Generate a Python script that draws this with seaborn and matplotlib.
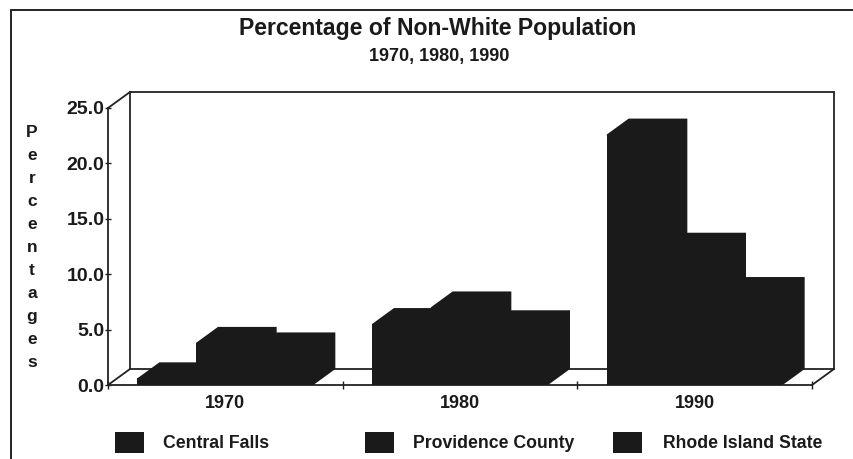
import matplotlib
matplotlib.use("Agg")
import matplotlib.pyplot as plt
from matplotlib.lines import Line2D
from matplotlib.patches import Polygon, Rectangle
import pandas as pd
import seaborn as sns

years = ["1970", "1980", "1990"]
central_falls = [0.6, 5.5, 22.6]
providence_county = [3.8, 7.0, 12.3]
rhode_island_state = [3.3, 5.3, 8.3]
series_names = ["Central Falls", "Providence County", "Rhode Island State"]
y_ticks = [0, 5, 10, 15, 20, 25]

W, H = 854, 459
INK = "#1a1a1a"
FONT = ["Liberation Sans", "DejaVu Sans"]

sns.set_theme(style="white", rc={"font.family": FONT, "font.weight": "bold",
                                 "text.color": INK, "axes.labelcolor": INK,
                                 "xtick.color": INK, "ytick.color": INK})

frame = pd.DataFrame({
    "year": years * 3,
    "value": central_falls + providence_county + rhode_island_state,
    "series": [n for n in series_names for _ in years],
})

fig = plt.figure(figsize=(W / 100, H / 100), dpi=100, facecolor="white")
ax = fig.add_axes([108 / W, 1 - 385 / H, 704 / W, 277 / H])
ax.patch.set_alpha(0)

palette = {n: INK for n in series_names}
sns.barplot(data=frame, x="year", y="value", hue="series", palette=palette,
            width=0.75, gap=0, dodge=True, saturation=1, legend=False,
            linewidth=0, ax=ax, errorbar=None, zorder=3)
ax.set_xlim(-0.5, 2.5)
ax.set_ylim(0, 25)

# Oblique depth of the pseudo-3D box, in data units
dx = 22 / (704 / 3)
dy = 16 / (277 / 25)

# Extrude every bar backwards with its top and side faces
for bar in list(ax.patches):
    x0, w, h = bar.get_x(), bar.get_width(), bar.get_height()
    ax.add_patch(Polygon([(x0, h), (x0 + dx, h + dy), (x0 + w + dx, h + dy),
                          (x0 + w + dx, dy), (x0 + w, 0)],
                         closed=True, fc=INK, ec="none", clip_on=False, zorder=3))

# Back wall and floor of the box
box = dict(color="#222222", lw=1.3, clip_on=False, zorder=1)
ax.add_line(Line2D([-0.5 + dx] * 2, [dy, 25 + dy], **box))
ax.add_line(Line2D([-0.5 + dx, 2.5 + dx], [25 + dy] * 2, **box))
ax.add_line(Line2D([2.5 + dx] * 2, [dy, 25 + dy], **box))
ax.add_line(Line2D([-0.5 + dx, 2.5 + dx], [dy, dy], **box))
ax.add_line(Line2D([-0.5, -0.5 + dx], [25, 25 + dy], **box))
ax.add_line(Line2D([-0.5, -0.5 + dx], [0, dy], **box))
ax.add_line(Line2D([2.5, 2.5 + dx], [0, dy], **box))

sns.despine(ax=ax, top=True, right=True)
for side in ("left", "bottom"):
    ax.spines[side].set_linewidth(1.3)
    ax.spines[side].set_color("#222222")
    ax.spines[side].set_zorder(2)

ax.set_yticks(y_ticks, [f"{v:.1f}" for v in y_ticks], fontsize=14, fontweight="bold")
ax.tick_params(axis="y", direction="inout", length=5, width=1, pad=0, left=True)
ax.set_xticks([0, 1, 2], years, fontsize=13, fontweight="bold")
ax.set_xticks([-0.5, 0.5, 1.5, 2.5], minor=True)
ax.tick_params(axis="x", which="major", length=0, pad=7)
ax.tick_params(axis="x", which="minor", direction="inout", length=6, width=1, bottom=True)
ax.set_xlabel("")
ax.set_ylabel("")

fig.text(32 / W, 1 - 247.5 / H, "\n".join("Percentages"), ha="center", va="center",
         fontsize=12.5, fontweight="bold", linespacing=1.67)

fig.text(438 / W, 1 - 28 / H, "Percentage of Non-White Population", ha="center",
         va="center", fontsize=16.6, fontweight="bold")
fig.text(439 / W, 1 - 56 / H, "1970, 1980, 1990", ha="center", va="center",
         fontsize=13, fontweight="bold")

# Legend entries sit at fixed spacing along the bottom of the frame
swatch_x = [115, 365, 613]
label_x = [163, 413, 663]
for name, sx, lx in zip(series_names, swatch_x, label_x):
    fig.add_artist(Rectangle((sx / W, 1 - 453 / H), 29 / W, 21 / H, fc=INK, ec="none",
                             transform=fig.transFigure))
    fig.text(lx / W, 1 - 443.5 / H, name, ha="left", va="center", fontsize=12.7,
             fontweight="bold")

# Outer frame: left edge and top edge both run off the sheet
outer = dict(color="#222222", lw=1.4, transform=fig.transFigure)
fig.add_artist(Line2D([11 / W, 11 / W], [0, 1 - 10 / H], **outer))
fig.add_artist(Line2D([11 / W, 1], [1 - 10 / H, 1 - 10 / H], **outer))

fig.savefig("out.png", dpi=100)
